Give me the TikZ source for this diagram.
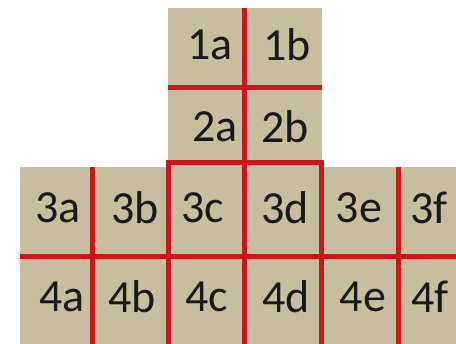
\documentclass[tikz,border=0pt]{standalone}
\usepackage{fontspec}
\setmainfont{Carlito}
\definecolor{tanfill}{HTML}{C6BE9E}
\definecolor{gridred}{HTML}{C8161C}
\begin{document}
\begin{tikzpicture}[x=1pt,y=-1pt,
  lbl/.style={font=\fontsize{46}{46}\selectfont, text=black!90, inner sep=0pt},
  redline/.style={draw=gridred, line width=5pt}]
\useasboundingbox (0,0) rectangle (456,344);
% tan areas
\fill[tanfill] (168,8) rectangle (322,170);
\fill[tanfill] (20,167) rectangle (456,344);
% red lines
\draw[redline] (244,8) -- (244,344);
\draw[redline] (168,88) -- (322,88);
\draw[redline] (168,344) -- (168,163) -- (321,163) -- (321,344);
\draw[redline] (20,257) -- (456,257);
\draw[redline] (92,167) -- (92,344);
\draw[redline] (398,167) -- (398,344);
% labels
\node[lbl] (n1a) at (210,45) {1a};
\node[lbl] (n1b) at (287,45) {1b};
\node[lbl] (n2a) at (215,127) {2a};
\node[lbl] (n2b) at (285,127) {2b};
\node[lbl] (n3a) at (58,208) {3a};
\node[lbl] (n3b) at (135,208) {3b};
\node[lbl] (n3c) at (203,208) {3c};
\node[lbl] (n3d) at (285,208) {3d};
\node[lbl] (n3e) at (359,208) {3e};
\node[lbl] (n3f) at (429,208) {3f};
\node[lbl] (n4a) at (62,297) {4a};
\node[lbl] (n4b) at (132,297) {4b};
\node[lbl] (n4c) at (207,297) {4c};
\node[lbl] (n4d) at (286,297) {4d};
\node[lbl] (n4e) at (363,297) {4e};
\node[lbl] (n4f) at (430,297) {4f};
\end{tikzpicture}
\end{document}
